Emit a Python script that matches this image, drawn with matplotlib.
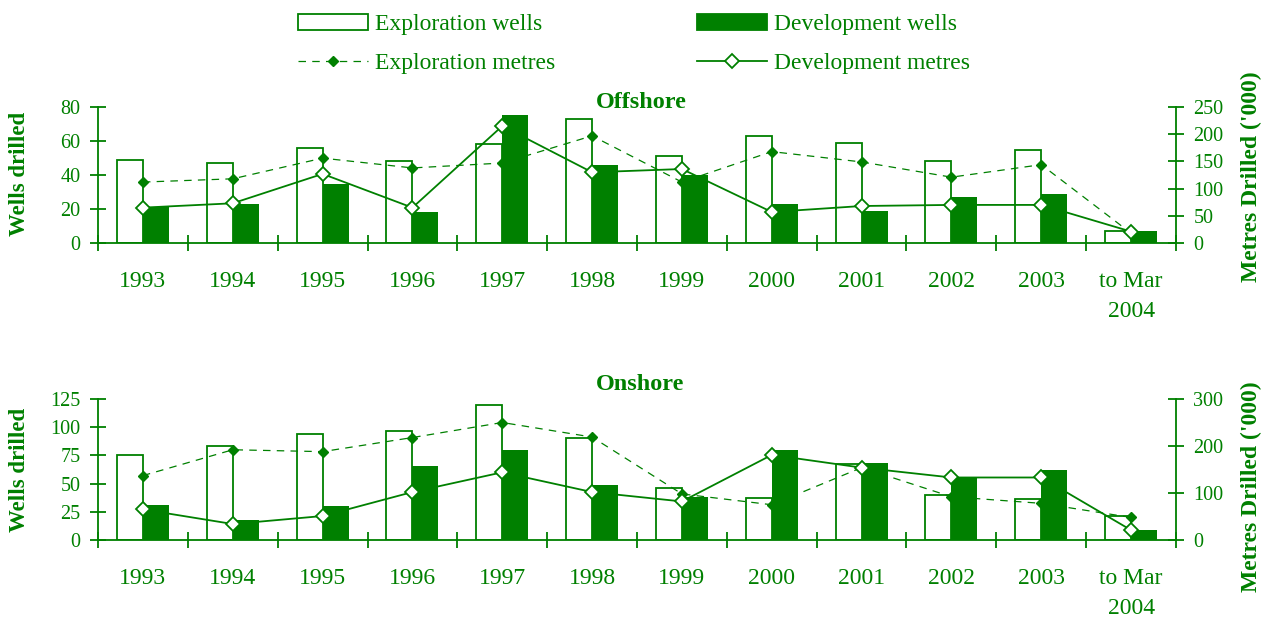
import matplotlib
matplotlib.use('Agg')
import matplotlib.pyplot as plt
from matplotlib.patches import Patch
from matplotlib.lines import Line2D
import numpy as np

# ---------------- data ----------------
years = ['1993', '1994', '1995', '1996', '1997', '1998', '1999', '2000',
         '2001', '2002', '2003', 'to Mar\n2004']

off_expl_wells = [49, 47, 56, 48, 58, 73, 51, 63, 59, 48, 55, 7]
off_dev_wells = [21, 23, 35, 18, 75, 46, 40, 23, 19, 27, 29, 7]
off_expl_metres = [112, 118, 156, 138, 147, 197, 112, 168, 149, 121, 144, 18]
off_dev_metres = [65, 73, 127, 65, 215, 130, 136, 57, 68, 70, 70, 21]

on_expl_wells = [75, 83, 94, 97, 120, 90, 46, 37, 67, 40, 36, 21]
on_dev_wells = [31, 18, 30, 66, 80, 49, 38, 80, 68, 55, 62, 9]
on_expl_metres = [137, 192, 188, 218, 250, 219, 98, 75, 154, 92, 78, 48]
on_dev_metres = [65, 34, 51, 102, 144, 102, 82, 181, 154, 133, 133, 21]

# ---------------- style ----------------
G = '#008000'
plt.rcParams['font.family'] = ['Liberation Serif', 'DejaVu Serif']

W, H = 1263, 619
fig = plt.figure(figsize=(W / 100, H / 100), dpi=100)


def rect(l, r, t, b):
    return [l / W, 1 - b / H, (r - l) / W, (b - t) / H]


def panel(r, ew, dw, em, dm, wmax, wstep, mmax, mstep):
    ax = fig.add_axes(r)
    x = np.arange(len(years))
    bw = 0.29
    ax.bar(x - bw / 2, ew, bw, facecolor='white', edgecolor=G, linewidth=1.3, zorder=2)
    ax.bar(x + bw / 2, dw, bw, color=G, linewidth=0, zorder=2)
    ax.set_xlim(-0.5, len(years) - 0.5)
    ax.set_ylim(0, wmax)
    ax.set_yticks(np.arange(0, wmax + 1, wstep))
    ax.set_xticks(x)
    ax.set_xticklabels(years, linespacing=1.55)
    ax.set_xticks(np.arange(-0.5, len(years), 1), minor=True)
    ax.tick_params(axis='x', which='major', length=0, pad=20.5, labelsize=17,
                   labelcolor=G)
    ax.tick_params(axis='x', which='minor', direction='inout', length=12,
                   width=1.3, color=G)
    ax.tick_params(axis='y', direction='inout', length=11, width=1.3, color=G,
                   labelcolor=G, labelsize=14.5, pad=7)
    for s in ['top', 'right']:
        ax.spines[s].set_visible(False)
    for s in ['left', 'bottom']:
        ax.spines[s].set_color(G)
        ax.spines[s].set_linewidth(1.3)

    ax2 = ax.twinx()
    ax2.plot(x, em, color=G, lw=0.9, dashes=(6, 5), marker='D', ms=5,
             mfc=G, mec=G)
    ax2.plot(x, dm, color=G, lw=1.3, marker='D', ms=7.5, mfc='white',
             mec=G, mew=1.3)
    ax2.set_ylim(0, mmax)
    ax2.set_yticks(np.arange(0, mmax + 1, mstep))
    ax2.tick_params(axis='y', direction='inout', length=11, width=1.3, color=G,
                    labelcolor=G, labelsize=14.5, pad=7)
    for s in ['top', 'left', 'bottom']:
        ax2.spines[s].set_visible(False)
    ax2.spines['right'].set_color(G)
    ax2.spines['right'].set_linewidth(1.3)
    return ax, ax2


panel(rect(98, 1176, 107, 243), off_expl_wells, off_dev_wells,
      off_expl_metres, off_dev_metres, 80, 20, 250, 50)
panel(rect(98, 1176, 399, 540), on_expl_wells, on_dev_wells,
      on_expl_metres, on_dev_metres, 125, 25, 300, 100)

# titles
fig.text(641 / W, 1 - 108 / H, 'Offshore', ha='center', va='baseline',
         fontsize=17.5, fontweight='bold', color=G)
fig.text(640 / W, 1 - 390 / H, 'Onshore', ha='center', va='baseline',
         fontsize=17.5, fontweight='bold', color=G)

# axis labels
for yc in (174, 470):
    fig.text(20 / W, 1 - yc / H, 'Wells drilled', rotation=90, ha='center',
             va='center', fontsize=16.5, fontweight='bold', color=G)
for yc in (177, 487):
    fig.text(1251 / W, 1 - yc / H, "Metres Drilled ('000)", rotation=90,
             ha='center', va='center', fontsize=17, fontweight='bold', color=G)

# legends
h_ew = Patch(facecolor='white', edgecolor=G, linewidth=1.3)
h_dw = Patch(facecolor=G, edgecolor=G, linewidth=1.3)
h_em = Line2D([], [], color=G, lw=0.9, dashes=(6, 5), marker='D', ms=5,
              mfc=G, mec=G)
h_dm = Line2D([], [], color=G, lw=1.3, marker='D', ms=7.5, mfc='white',
              mec=G, mew=1.3)

common = dict(loc='upper left', frameon=False, fontsize=17, handlelength=2.97,
              handleheight=0.68, handletextpad=0.3, labelspacing=0.74,
              borderpad=0, borderaxespad=0, labelcolor=G, numpoints=1)
fig.legend([h_ew, h_em], ['Exploration wells', 'Exploration metres'],
           bbox_to_anchor=(298 / W, 1 - 14 / H), **common)
fig.legend([h_dw, h_dm], ['Development wells', 'Development metres'],
           bbox_to_anchor=(697 / W, 1 - 14 / H), **common)

fig.savefig('out.png', dpi=100)
